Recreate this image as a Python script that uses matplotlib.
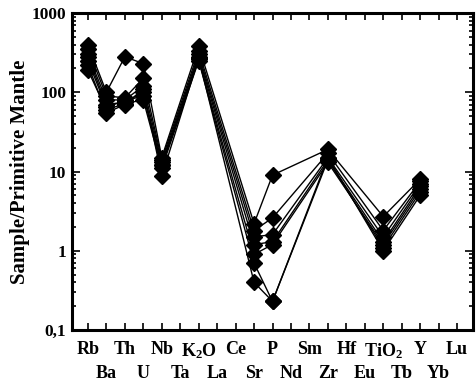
import matplotlib
matplotlib.use("Agg")
import matplotlib.pyplot as plt
import numpy as np

plt.rcParams['font.family'] = 'Liberation Serif'
plt.rcParams['font.weight'] = 'bold'
plt.rcParams['mathtext.fontset'] = 'custom'
plt.rcParams['mathtext.rm'] = 'Liberation Serif:bold'
plt.rcParams['mathtext.bf'] = 'Liberation Serif:bold'
plt.rcParams['mathtext.it'] = 'Liberation Serif:bold'

elements = ['Rb', 'Ba', 'Th', 'U', 'Nb', 'Ta', r'K$_2$O', 'La', 'Ce', 'Sr', 'P',
            'Nd', 'Sm', 'Zr', 'Hf', 'Eu', r'TiO$_2$', 'Tb', 'Y', 'Yb', 'Lu']
nan = np.nan

# primitive-mantle normalised values, one row per sample (nan = not analysed)
s1 = [400, 100, 280, 230, 15, nan, 380, nan, nan, 2.2, 9.0, nan, nan, 19, nan, nan, 2.7, nan, 8.0, nan, nan]
s2 = [350, 90, 85, 150, 14, nan, 330, nan, nan, 1.8, 2.6, nan, nan, 17, nan, nan, 1.8, nan, 7.5, nan, nan]
s3 = [300, 80, 80, 120, 13, nan, 300, nan, nan, 1.5, 1.6, nan, nan, 15, nan, nan, 1.5, nan, 7.0, nan, nan]
s4 = [280, 70, 75, 100, 12, nan, 280, nan, nan, 1.2, 1.3, nan, nan, 14, nan, nan, 1.3, nan, 6.5, nan, nan]
s5 = [250, 65, 78, 90, 12, nan, 260, nan, nan, 0.9, 1.2, nan, nan, 13, nan, nan, 1.2, nan, 6.0, nan, nan]
s6 = [190, 60, 72, 80, 11, nan, 250, nan, nan, 0.7, 0.23, nan, nan, 14, nan, nan, 1.1, nan, 5.5, nan, nan]
s7 = [220, 55, 70, 110, 8.7, nan, 270, nan, nan, 0.4, 0.23, nan, nan, 15, nan, nan, 1.0, nan, 5.0, nan, nan]
samples = [s1, s2, s3, s4, s5, s6, s7]

fig = plt.figure(figsize=(4.76, 3.82), dpi=100)
ax = fig.add_axes([0.151, 0.136, 0.843, 0.830])

x = np.arange(len(elements))
for s in samples:
    y = np.array(s, dtype=float)
    ok = ~np.isnan(y)
    ax.plot(x[ok], y[ok], color='black', lw=1.0, marker='D', ms=8,
            mfc='black', mec='black')

ax.set_yscale('log')
ax.set_ylim(0.1, 1000)
ax.set_xlim(-0.87, 20.87)

ax.set_yticks([0.1, 1, 10, 100, 1000])
ax.set_yticklabels(['0,1', '1', '10', '100', '1000'], fontsize=12.5, fontweight='bold')

# element names in two staggered rows: even positions on top, odd below
ax.set_xticks(x[::2])
ax.set_xticklabels(elements[::2], fontsize=13, fontweight='bold')
ax.set_xticks(x[1::2], minor=True)
ax.set_xticklabels(elements[1::2], minor=True, fontsize=13, fontweight='bold')

ax.tick_params(axis='both', which='both', direction='in', top=True, right=True, width=1.2)
ax.tick_params(axis='x', which='both', length=5)
ax.tick_params(axis='x', which='major', pad=8)
ax.tick_params(axis='x', which='minor', pad=25)
ax.tick_params(axis='y', which='major', length=6, pad=4)
ax.tick_params(axis='y', which='minor', length=3)
for sp in ax.spines.values():
    sp.set_linewidth(2.2)

ax.set_ylabel('Sample/Primitive Mantle', fontsize=15, fontweight='bold', labelpad=1)

fig.savefig('out.png', dpi=100)
